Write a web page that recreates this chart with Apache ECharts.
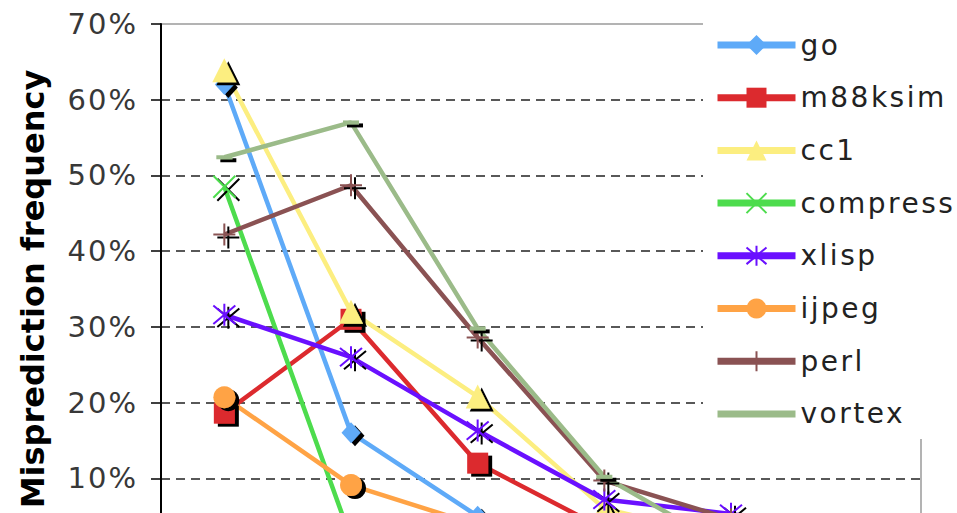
<!DOCTYPE html>
<html>
<head>
<meta charset="utf-8">
<script src="https://cdn.jsdelivr.net/npm/echarts@6/dist/echarts.min.js"></script>
<style>
  html, body { margin: 0; padding: 0; background: #fff; }
  #chart { width: 957px; height: 513px; }
  #chart svg text { letter-spacing: 2.5px; }
  #chart svg text[text-anchor="end"] { letter-spacing: 2px; }
  #chart svg text[text-anchor="middle"] { letter-spacing: 0; }
</style>
</head>
<body>
<div id="chart"></div>
<script>
// Branch misprediction frequency per benchmark
const categories = ['1', '2', '3', '4', '5', '6'];
const yTicks = [0, 10, 20, 30, 40, 50, 60, 70];

const go       = [62.0, 16.0,  5.0,  1.5, 0.5, 0.2];
const m88ksim  = [18.6, 31.0, 12.0,  3.3, 1.0, 0.5];
const cc1      = [63.9, 32.0, 20.8,  6.0, 2.0, 0.8];
const compress = [48.5,  2.0,  0.5,  0.2, 0.1, 0.1];
const xlisp    = [31.6, 26.0, 16.3,  7.2, 5.3, 2.5];
const ijpeg    = [20.7,  9.1,  3.8,  1.0, 0.3, 0.1];
const perl     = [42.2, 48.7, 28.6,  9.7, 4.6, 1.5];
const vortex   = [52.4, 57.0, 29.8, 10.2, 0.6, 0.2];

const FONT = 'DejaVu Sans';
const shadow = { shadowColor: '#000', shadowOffsetX: 4, shadowOffsetY: 3, shadowBlur: 0.5 };

const SYM_X = 'path://M0,0L10,10M10,0L0,10';
const SYM_STAR = 'path://M0,0L10,10M10,0L0,10M5,-1L5,11';
const SYM_PLUS = 'path://M5,0L5,10M0,5L10,5';

function line(name, data, color, symbol, size, stroked) {
  return {
    name: name,
    type: 'line',
    data: data,
    symbol: symbol,
    symbolSize: size,
    showAllSymbol: true,
    lineStyle: { color: color, width: 4.5 },
    itemStyle: Object.assign({
      color: color,
      borderColor: color,
      borderWidth: stroked ? 2 : 0,
      opacity: 1
    }, shadow),
    emphasis: { disabled: true },
    animation: false
  };
}

const names = ['go', 'm88ksim', 'cc1', 'compress', 'xlisp', 'ijpeg', 'perl', 'vortex'];
const legendData = names.map(function (n) {
  // the vortex dash marker disappears into its own line in the key
  return n === 'vortex'
    ? { name: n, itemStyle: { color: 'rgba(0,0,0,0)', borderWidth: 0 } }
    : { name: n };
});

const chart = echarts.init(document.getElementById('chart'), null, { renderer: 'svg' });

chart.setOption({
  animation: false,
  backgroundColor: '#fff',
  grid: {
    left: 161, right: 36, top: 24, bottom: -41,
    outerBoundsMode: 'none',
    containLabel: false,
    show: true, borderColor: '#9a9a9a', borderWidth: 1.5
  },
  legend: {
    orient: 'vertical',
    left: 703, top: 0,
    padding: [30, 20, 10, 11],
    backgroundColor: '#fff',
    itemWidth: 78,
    itemHeight: 25,
    itemGap: 22.7,
    data: legendData,
    textStyle: { fontFamily: FONT, fontSize: 28, lineHeight: 30, color: '#222' },
    lineStyle: { width: 7 },
    itemStyle: { shadowColor: 'rgba(0,0,0,0)', shadowOffsetX: 0, shadowOffsetY: 0, shadowBlur: 0 },
    z: 10
  },
  xAxis: {
    type: 'category',
    data: categories,
    boundaryGap: true,
    axisLine: { show: false },
    axisTick: { show: false },
    axisLabel: { show: false },
    splitLine: { show: false }
  },
  yAxis: {
    type: 'value',
    min: yTicks[0],
    max: yTicks[yTicks.length - 1],
    interval: 10,
    name: 'Misprediction frequency',
    nameLocation: 'middle',
    nameRotate: 90,
    nameGap: 112,
    nameTextStyle: { fontFamily: FONT, fontSize: 32, fontWeight: 'bold', color: '#000' },
    axisLine: { show: true, lineStyle: { color: '#000', width: 2 } },
    axisTick: { show: true, length: 10, lineStyle: { color: '#000', width: 1.5 } },
    axisLabel: {
      fontFamily: FONT, fontSize: 29, color: '#383838', margin: 23,
      formatter: function (v) { return v + '%'; }
    },
    splitLine: {
      show: true, showMaxLine: false,
      lineStyle: { color: '#222', width: 1.5, type: [9, 6] }
    }
  },
  series: [
    line('go', go, '#5eaaf8', 'diamond', [19, 21], false),
    line('m88ksim', m88ksim, '#dc2a2e', 'rect', 21, false),
    line('cc1', cc1, '#fcee80', 'triangle', [24, 24], false),
    line('compress', compress, '#4ddc4d', SYM_X, 22, true),
    line('xlisp', xlisp, '#6a10ff', SYM_STAR, 22, true),
    line('ijpeg', ijpeg, '#ffa345', 'circle', 22, false),
    line('perl', perl, '#8a5253', SYM_PLUS, 22, true),
    line('vortex', vortex, '#9bbb89', 'rect', [16, 4], false)
  ]
});
</script>
</body>
</html>
